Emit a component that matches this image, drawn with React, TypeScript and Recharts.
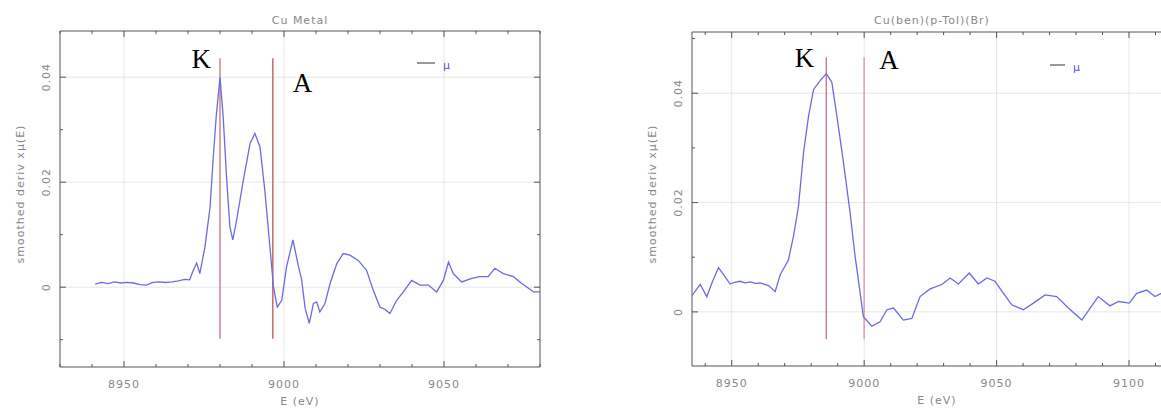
import React from 'react';
import { LineChart, Line, XAxis, YAxis, CartesianGrid, ReferenceLine, Legend } from 'recharts';

// Cu metal, smoothed derivative of mu(E)
const cuMetalEnergy = [
  8941, 8943, 8945, 8947, 8949, 8951, 8953, 8955, 8957, 8959, 8961, 8963, 8965, 8967, 8969,
  8970.5, 8971.5, 8972.7, 8973.7, 8975.3, 8976.9, 8977.9, 8978.8, 8980, 8981, 8982.1, 8983.1,
  8984, 8985.2, 8987.3, 8989.4, 8990.9, 8992.5, 8994, 8995.6, 8996.7, 8997.9, 8999.3, 9000.8,
  9002.8, 9004.5, 9005.5, 9006.6, 9007.9, 9009.2, 9010.2, 9011.2, 9012.8, 9014.4, 9016.5,
  9018.5, 9020.6, 9023.2, 9025.8, 9027.9, 9030, 9031.5, 9033.1, 9035.2, 9037.3, 9039.9, 9042.5,
  9045.1, 9047.7, 9049.8, 9051.4, 9052.9, 9055.5, 9058.7, 9061.2, 9063.8, 9065.9, 9068.5,
  9071.7, 9073.7, 9076.4, 9078, 9080,
];
const cuMetalMu = [
  0.0006, 0.0009, 0.0007, 0.001, 0.0008, 0.0009, 0.0008, 0.0005, 0.0004, 0.0009, 0.001, 0.0009,
  0.001, 0.0012, 0.0015, 0.0014, 0.003, 0.0046, 0.0026, 0.0077, 0.0153, 0.0248, 0.0324, 0.04,
  0.0324, 0.0204, 0.0115, 0.009, 0.0128, 0.0204, 0.0274, 0.0293, 0.0267, 0.0185, 0.0077, 0.0001,
  -0.0038, -0.0025, 0.0039, 0.009, 0.004, 0.0015, -0.004, -0.0069, -0.0031, -0.0028, -0.0047,
  -0.0031, 0.0007, 0.0045, 0.0064, 0.0061, 0.0051, 0.0032, -0.0006, -0.0038, -0.0042, -0.005,
  -0.0025, -0.0009, 0.0013, 0.0004, 0.0004, -0.0009, 0.0013, 0.0048, 0.0026, 0.001, 0.0017,
  0.002, 0.002, 0.0036, 0.0026, 0.002, 0.001, -0.0002, -0.0009, -0.0009,
];

// Cu(ben)(p-Tol)(Br)
const cuBenEnergy = [
  8935, 8938.1, 8940.6, 8942.5, 8945, 8946.9, 8949.4, 8951, 8953.2, 8955, 8957, 8959, 8960.8,
  8963.9, 8966.4, 8968.3, 8971.4, 8973.3, 8975.2, 8977.1, 8979, 8980.9, 8983.4, 8985.7, 8987.8,
  8989.7, 8992.2, 8994.7, 8996.6, 8998.5, 8999.7, 9002.9, 9006, 9008.6, 9011.1, 9014.8, 9018,
  9021.1, 9024.9, 9029.3, 9032.5, 9035.6, 9039.7, 9043.1, 9046.3, 9049.4, 9052.6, 9055.7,
  9060.1, 9063.9, 9068.3, 9072.7, 9077.1, 9082.2, 9085.3, 9088.4, 9092.8, 9096, 9100.1, 9102.9,
  9106.7, 9109.8, 9112.3, 9116,
];
const cuBenMu = [
  0.003, 0.005, 0.0028, 0.0053, 0.0081, 0.0068, 0.0051, 0.0054, 0.0056, 0.0053, 0.0055, 0.0052,
  0.0053, 0.0048, 0.0037, 0.0068, 0.0095, 0.0138, 0.0193, 0.0291, 0.0358, 0.0407, 0.0423, 0.0436,
  0.042, 0.0358, 0.0273, 0.0181, 0.0101, 0.0034, -0.0009, -0.0026, -0.0018, 0.0004, 0.0007,
  -0.0015, -0.0012, 0.0028, 0.0042, 0.005, 0.0062, 0.0051, 0.0071, 0.0051, 0.0062, 0.0056,
  0.0034, 0.0013, 0.0004, 0.0016, 0.0031, 0.0028, 0.0007, -0.0015, 0.0007, 0.0028, 0.0011,
  0.0019, 0.0016, 0.0034, 0.004, 0.0028, 0.0034, 0.003,
];

const markerNames = ['K', 'A'];
const cuMetalMarkers = [8980, 8996.5];
const cuBenMarkers = [8985.7, 9000];

const FONT = '"DejaVu Sans", sans-serif';
const AXIS = '#555';
const TEXT = '#888';
const CURVE = '#6b6be0';

const range = (from: number, to: number, step: number) => {
  const out: number[] = [];
  for (let v = Math.ceil(from / step - 1e-9) * step; v <= to + 1e-9; v += step) out.push(Math.round(v * 1e4) / 1e4);
  return out;
};

const xTick = (dir: number, showLabel: boolean) => (props: any) => {
  const { x, y, payload } = props;
  const major = Math.round(payload.value) % 50 === 0;
  return (
    <g>
      <line x1={x} x2={x} y1={y} y2={y - dir * (major ? 6 : 3)} stroke={AXIS} />
      {showLabel && major && (
        <text x={x} y={y + 21} textAnchor="middle" fontSize={11} letterSpacing={1} fill={TEXT} fontFamily={FONT}>
          {payload.value}
        </text>
      )}
    </g>
  );
};

const yTick = (dir: number, showLabel: boolean) => (props: any) => {
  const { x, y, payload } = props;
  const major = Math.round(payload.value * 100) % 2 === 0;
  const label = payload.value === 0 ? '0' : payload.value.toFixed(2);
  return (
    <g>
      <line x1={x} x2={x + dir * (major ? 6 : 3)} y1={y} y2={y} stroke={AXIS} />
      {showLabel && major && (
        <text x={x - 10} y={y} transform={`rotate(-90 ${x - 10} ${y})`} textAnchor="middle" fontSize={11}
          letterSpacing={1} fill={TEXT} fontFamily={FONT}>
          {label}
        </text>
      )}
    </g>
  );
};

const SpectrumPanel = ({ title, energy, mu, xDomain, yDomain, markers, markerSpan, labelOffsets,
  width, leftWidth, rightWidth, topHeight, bottomHeight, markerColors, legendPos }: any) => {
  const data = energy.map((e: number, i: number) => ({ e, mu: mu[i] }));
  const xTicks = range(xDomain[0], xDomain[1], 10);
  const yTicks = range(yDomain[0], yDomain[1], 0.01);
  const xMajor = range(xDomain[0], xDomain[1], 50);
  const yMajor = range(yDomain[0], yDomain[1], 0.02);

  return (
    <LineChart width={width} height={409} data={data} margin={{ top: 0, right: 0, bottom: 0, left: 0 }}>
      <CartesianGrid xAxisId="bottom" yAxisId="left" stroke="#e6e6e6"
        verticalValues={xMajor} horizontalValues={yMajor} />
      <XAxis xAxisId="bottom" dataKey="e" type="number" domain={xDomain} allowDataOverflow ticks={xTicks}
        interval={0} tickSize={0} tickMargin={0} tickLine={false} height={bottomHeight}
        axisLine={{ stroke: AXIS }} tick={xTick(1, true)}
        label={{
          content: ({ viewBox }: any) => (
            <text x={viewBox.x + viewBox.width / 2} y={viewBox.y + 38} textAnchor="middle" fontSize={11}
              letterSpacing={1} fill={TEXT} fontFamily={FONT}>E (eV)</text>
          ),
        }} />
      <XAxis xAxisId="top" orientation="top" dataKey="e" type="number" domain={xDomain} allowDataOverflow
        ticks={xTicks} interval={0} tickSize={0} tickMargin={0} tickLine={false} height={topHeight}
        axisLine={{ stroke: AXIS }} tick={xTick(-1, false)}
        label={{
          content: ({ viewBox }: any) => (
            <text x={viewBox.x + viewBox.width / 2 + title.dx} y={24} textAnchor="middle" fontSize={11}
              letterSpacing={1} fill={TEXT} fontFamily={FONT}>{title.text}</text>
          ),
        }} />
      <YAxis yAxisId="left" type="number" domain={yDomain} allowDataOverflow ticks={yTicks} interval={0}
        tickSize={0} tickMargin={0} tickLine={false} width={leftWidth} axisLine={{ stroke: AXIS }}
        tick={yTick(1, true)}
        label={{
          content: ({ viewBox }: any) => {
            const lx = viewBox.x + viewBox.width - 36;
            const ly = viewBox.y + viewBox.height / 2 - 5;
            return (
              <text x={lx} y={ly} transform={`rotate(-90 ${lx} ${ly})`} textAnchor="middle" fontSize={11}
                letterSpacing={1} fill={TEXT} fontFamily={FONT}>smoothed deriv xμ(E)</text>
            );
          },
        }} />
      <YAxis yAxisId="right" orientation="right" type="number" domain={yDomain} allowDataOverflow ticks={yTicks}
        interval={0} tickSize={0} tickMargin={0} tickLine={false} width={rightWidth}
        axisLine={{ stroke: AXIS }} tick={yTick(-1, false)} />
      {markers.map((m: number, i: number) => (
        <ReferenceLine key={markerNames[i]} xAxisId="bottom" yAxisId="left"
          segment={[{ x: m, y: markerSpan[0] }, { x: m, y: markerSpan[1] }]}
          stroke={markerColors[i]} strokeWidth={i === 0 ? 1.3 : 1.6}
          label={{
            content: ({ viewBox }: any) => (
              <text x={viewBox.x + labelOffsets[i][0]} y={viewBox.y + labelOffsets[i][1]}
                textAnchor={labelOffsets[i][0] < 0 ? 'end' : 'start'} fontSize={27}
                fontFamily='"Liberation Serif", "Times New Roman", serif' fill="#000">{markerNames[i]}</text>
            ),
          }} />
      ))}
      <Line xAxisId="bottom" yAxisId="left" dataKey="mu" name="μ" type="linear" stroke={CURVE}
        strokeWidth={1.3} dot={false} isAnimationActive={false} />
      <Legend layout="vertical" align="center" verticalAlign="middle"
        wrapperStyle={{ left: legendPos[0], top: legendPos[1], width: 'auto', height: 'auto' }}
        content={() => (
          <svg width={40} height={18}>
            <line x1={0} x2={legendPos[2]} y1={7} y2={7} stroke="#333" />
            <text x={legendPos[2] + 8} y={13} fontSize={11} fill="#5555dd" fontFamily={FONT}>μ</text>
          </svg>
        )} />
    </LineChart>
  );
};

export default function App() {
  return (
    <div style={{ position: 'absolute', left: 0, top: 0, width: 1161, height: 409, overflow: 'hidden', background: '#fff' }}>
      <div style={{ position: 'absolute', left: 0, top: 0 }}>
        <SpectrumPanel
          title={{ text: 'Cu Metal', dx: 0 }}
          energy={cuMetalEnergy} mu={cuMetalMu}
          xDomain={[8930, 9080]} yDomain={[-0.0152, 0.0488]}
          markers={cuMetalMarkers} markerSpan={[-0.0098, 0.0436]}
          markerColors={['#c8707c', '#c8707c']}
          labelOffsets={[[-9, 10], [20, 34]]}
          width={580} leftWidth={60} rightWidth={40} topHeight={31} bottomHeight={42}
          legendPos={[417, 56, 18]} />
      </div>
      <div style={{ position: 'absolute', left: 580, top: 0 }}>
        <SpectrumPanel
          title={{ text: 'Cu(ben)(p-Tol)(Br)', dx: -5 }}
          energy={cuBenEnergy} mu={cuBenMu}
          xDomain={[8935, 9120]} yDomain={[-0.0099, 0.0512]}
          markers={cuBenMarkers} markerSpan={[-0.005, 0.0466]}
          markerColors={['#c8707c', '#e0a4b4']}
          labelOffsets={[[-12, 10], [15, 12]]}
          width={642} leftWidth={112} rightWidth={40} topHeight={32} bottomHeight={43}
          legendPos={[470, 58, 15]} />
      </div>
    </div>
  );
}
